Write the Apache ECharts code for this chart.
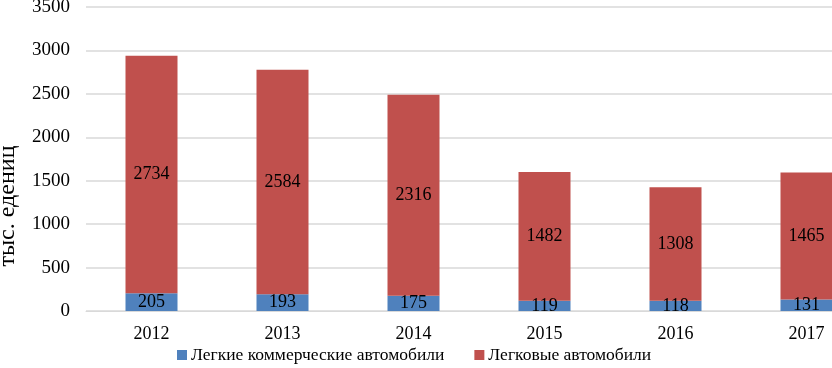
<!DOCTYPE html>
<html>
<head>
<meta charset="utf-8">
<script src="https://cdn.jsdelivr.net/npm/echarts@6/dist/echarts.min.js"></script>
<style>
  html, body { margin: 0; padding: 0; background: #fff; overflow: hidden; }
  #chart { width: 832px; height: 368px; }
</style>
</head>
<body>
<div id="chart"></div>
<script>
// data
var years = ['2012', '2013', '2014', '2015', '2016', '2017'];
var lcv = [205, 193, 175, 119, 118, 131];          // Легкие коммерческие автомобили
var cars = [2734, 2584, 2316, 1482, 1308, 1465];   // Легковые автомобили
var seriesNames = ['Легкие коммерческие автомобили', 'Легковые автомобили'];

var font = '"Liberation Serif", "Times New Roman", serif';

var chart = echarts.init(document.getElementById('chart'));

var labelStyle = {
  show: true,
  position: 'inside',
  color: '#000',
  fontFamily: font,
  fontSize: 18
};

chart.setOption({
  animation: false,
  // plot runs past the right edge, like the cropped original
  grid: { left: 86, width: 786, top: 7, height: 304, containLabel: false, outerBoundsMode: 'none' },
  legend: {
    bottom: -1,
    left: 172,
    itemWidth: 10,
    itemHeight: 10,
    itemGap: 30,
    icon: 'rect',
    textStyle: { fontFamily: font, fontSize: 17.5, color: '#000', padding: [0, 0, 0, -1] },
    data: seriesNames
  },
  xAxis: {
    type: 'category',
    data: years,
    axisLine: { lineStyle: { color: '#d9d9d9' } },
    axisTick: { show: false },
    axisLabel: { color: '#000', fontFamily: font, fontSize: 18, margin: 14 }
  },
  yAxis: {
    type: 'value',
    min: 0,
    max: 3500,
    interval: 500,
    name: 'тыс. едениц',
    nameLocation: 'middle',
    nameGap: 66,
    nameTextStyle: { color: '#000', fontFamily: font, fontSize: 24, padding: [0, 94, 0, 0] },
    axisLine: { show: false },
    axisTick: { show: false },
    axisLabel: {
      color: '#000', fontFamily: font, fontSize: 19, margin: 16,
      formatter: function (v) { return String(v); }
    },
    splitLine: { lineStyle: { color: '#d9d9d9', width: 1.5 } }
  },
  series: [
    {
      name: seriesNames[0],
      type: 'bar',
      stack: 'total',
      barWidth: 52,
      data: lcv,
      itemStyle: { color: '#4F81BD' },
      label: labelStyle
    },
    {
      name: seriesNames[1],
      type: 'bar',
      stack: 'total',
      barWidth: 52,
      data: cars,
      itemStyle: { color: '#C0504D' },
      label: labelStyle
    }
  ]
});
</script>
</body>
</html>
